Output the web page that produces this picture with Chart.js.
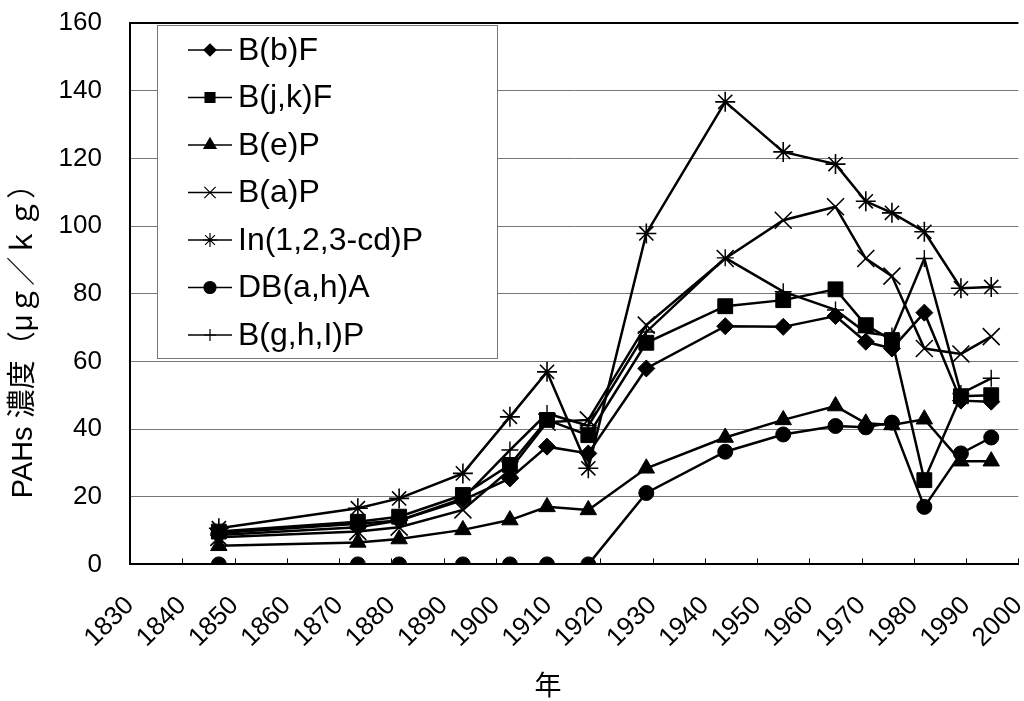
<!DOCTYPE html>
<html><head><meta charset="utf-8">
<script src="https://cdn.jsdelivr.net/npm/chart.js@4/dist/chart.umd.min.js"></script>
<style>
html,body{margin:0;padding:0;background:#fff;overflow:hidden;width:1024px;height:701px}
#wrap{width:1032px;height:701px}
</style></head>
<body><div id="wrap"><canvas id="c" width="1032" height="701"></canvas></div>
<script>
// ---- data ----
const years   = [1847, 1873.6, 1881.5, 1893.7, 1902.7, 1909.8, 1917.7, 1928.8, 1943.9, 1955, 1965, 1970.8, 1975.8, 1982, 1989, 1994.8];
const seriesNames = ['B(b)F', 'B(j,k)F', 'B(e)P', 'B(a)P', 'In(1,2,3-cd)P', 'DB(a,h)A', 'B(g,h,I)P'];
const bbF    = [8.7, 11.0, 13.0, 19.0, 25.4, 34.8, 32.8, 57.9, 70.4, 70.2, 73.4, 65.8, 63.8, 74.4, 48.4, 48.1];
const bjkF   = [9.7, 12.6, 14.1, 20.5, 29.4, 42.7, 38.2, 65.5, 76.3, 78.1, 81.3, 70.7, 66.3, 24.9, 49.7, 50.0];
const beP    = [5.5, 6.5, 7.5, 10.2, 13.1, 17.0, 16.1, 28.4, 37.5, 42.7, 46.8, 41.7, 41.2, 42.9, 30.5, 30.5];
const baP    = [8.0, 9.7, 11.0, 16.1, 28.0, 42.0, 42.7, 70.7, 90.4, 101.7, 105.7, 90.4, 85.2, 63.8, 62.2, 67.3];
const in123P = [10.7, 16.6, 19.5, 26.9, 43.6, 56.9, 28.4, 97.8, 136.7, 121.9, 118.3, 107.3, 103.9, 98.3, 81.6, 82.0];
const dbahA  = [0, 0, 0, 0, 0, 0, 0, 21.1, 33.3, 38.4, 40.9, 40.5, 41.9, 17.0, 32.8, 37.5];
const bghiP  = [9.3, 12.0, 13.0, 19.5, 33.8, 44.6, 41.0, 68.7, 90.6, 80.6, 75.2, 68.5, 67.5, 90.4, 50.5, 55.0];
const xTickMin = 1830, xTickMax = 2000, xTickStep = 10;
const yTickMin = 0, yTickMax = 160, yTickStep = 20;
const xTitle = '年';
const yTitle = 'PAHs 濃度（μｇ／ｋｇ）';

// ---- styles ----
const allValues = [bbF, bjkF, beP, baP, in123P, dbahA, bghiP];
const markers = [
  {style:'rectRot', r:8.5, bw:1},
  {style:'rect', r:10.5, bw:1},
  {style:'triangle', r:9.5, bw:1},
  {style:'crossRot', r:12, bw:1.6},
  {style:'star', r:10, bw:1.6},
  {style:'circle', r:7.5, bw:1},
  {style:'cross', r:8.5, bw:1.4}
];
const legendMarkers = [
  {style:'rectRot', r:6}, {style:'rect', r:7}, {style:'triangle', r:7},
  {style:'crossRot', r:8}, {style:'star', r:7}, {style:'circle', r:6}, {style:'cross', r:6}
];
const latin = '"Liberation Sans", Arial, sans-serif';
const cjk = '"Liberation Sans", "Noto Sans CJK JP", sans-serif';

const datasets = seriesNames.map((name, i) => ({
  label: name,
  data: years.map((yr, j) => ({x: yr, y: allValues[i][j]})),
  borderColor: '#000',
  backgroundColor: '#000',
  borderWidth: 2.5,
  pointStyle: markers[i].style,
  pointRadius: markers[i].r,
  pointHoverRadius: markers[i].r,
  pointBackgroundColor: '#000',
  pointBorderColor: '#000',
  pointBorderWidth: markers[i].bw,
  tension: 0,
  fill: false
}));

const extras = {
  id: 'extras',
  afterDraw(chart) {
    const ctx = chart.ctx;
    const xs = chart.scales.x;
    const ca = chart.chartArea;
    ctx.save();
    // inward x tick marks
    ctx.strokeStyle = '#000'; ctx.lineWidth = 1;
    xs.ticks.forEach(t => {
      const px = Math.round(xs.getPixelForValue(t.value)) + 0.5;
      ctx.beginPath(); ctx.moveTo(px, ca.bottom); ctx.lineTo(px, ca.bottom - 6); ctx.stroke();
    });
    // axis titles
    ctx.fillStyle = '#000';
    ctx.textAlign = 'center'; ctx.textBaseline = 'middle';
    ctx.font = '27px ' + cjk;
    ctx.fillText(xTitle, 548, 688);
    ctx.save();
    ctx.translate(24, 334);
    ctx.rotate(-Math.PI / 2);
    ctx.font = '29px ' + cjk;
    ctx.fillText(yTitle, 0, 0);
    ctx.restore();
    // legend box
    const bx = 157, by = 25, bw = 340, bh = 333;
    ctx.fillStyle = '#fff';
    ctx.fillRect(bx, by, bw, bh);
    ctx.strokeStyle = '#777'; ctx.lineWidth = 1;
    ctx.strokeRect(bx + 0.5, by + 0.5, bw, bh);
    chart.data.datasets.forEach((ds, i) => {
      const cy = 50 + i * 47.5;
      ctx.strokeStyle = '#000'; ctx.fillStyle = '#000';
      ctx.lineWidth = 1.5;
      ctx.beginPath(); ctx.moveTo(188, cy); ctx.lineTo(232, cy); ctx.stroke();
      const lm = legendMarkers[i];
      ctx.lineWidth = 1.2;
      if (Chart.helpers && Chart.helpers.drawPoint) {
        Chart.helpers.drawPoint(ctx, {pointStyle: lm.style, radius: lm.r, borderWidth: 1.2, rotation: 0}, 210, cy);
      }
      ctx.fillStyle = '#000';
      ctx.textAlign = 'left'; ctx.textBaseline = 'middle';
      ctx.font = '32px ' + latin;
      ctx.fillText(ds.label, 238, cy + 1);
    });
    ctx.restore();
  }
};

new Chart(document.getElementById('c'), {
  type: 'line',
  data: { datasets },
  options: {
    responsive: false,
    animation: false,
    devicePixelRatio: 1,
    layout: { padding: { left: 0, right: 6, top: 23, bottom: 0 } },
    plugins: { legend: { display: false }, tooltip: { enabled: false } },
    scales: {
      x: {
        type: 'linear', min: xTickMin, max: xTickMax,
        ticks: {
          stepSize: xTickStep, autoSkip: false, minRotation: 45, maxRotation: 45,
          padding: 26, color: '#000', font: { family: latin, size: 26 },
          callback: v => String(v)
        },
        grid: { drawOnChartArea: false, drawTicks: false },
        border: { color: '#000', width: 2 },
        afterFit(s) { s.height = 136.6; s.paddingRight = 0; s.paddingLeft = 0; }
      },
      y: {
        min: yTickMin, max: yTickMax,
        ticks: { stepSize: yTickStep, padding: 28, color: '#000', font: { family: latin, size: 26 } },
        grid: {
          drawTicks: false,
          color: c => (c.tick && c.tick.value === yTickMax) ? '#000' : '#777',
          lineWidth: c => (c.tick && c.tick.value === yTickMax) ? 2 : 1
        },
        border: { color: '#000', width: 2 },
        afterFit(s) { s.width = 130; s.paddingTop = 0; s.paddingBottom = 0; }
      }
    }
  },
  plugins: [extras]
});
</script>
</body></html>
